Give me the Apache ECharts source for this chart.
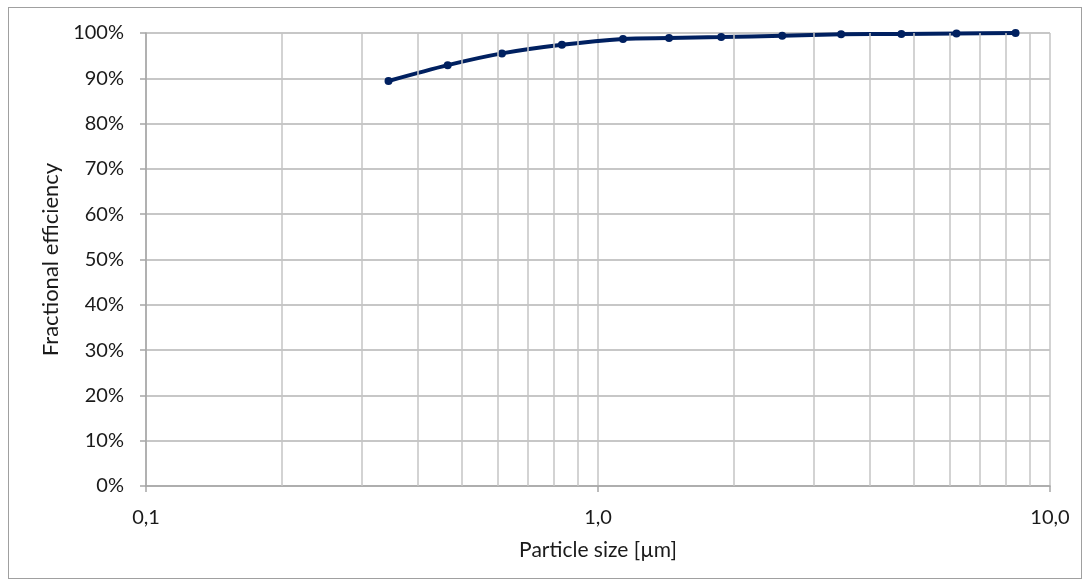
<!DOCTYPE html>
<html><head><meta charset="utf-8">
<script src="https://cdn.jsdelivr.net/npm/echarts@6/dist/echarts.min.js"></script>
<style>
html,body{margin:0;padding:0;background:#fff;}
#frame{position:absolute;left:8px;top:7px;width:1074px;height:572px;border:1.5px solid #a0a0a0;box-sizing:border-box;}
#c{position:absolute;left:0;top:0;width:1091px;height:588px;}
</style></head>
<body>
<div id="frame"></div>
<div id="c"></div>
<script>
const particleSize = [0.344, 0.465, 0.613, 0.832, 1.136, 1.436, 1.873, 2.556, 3.45, 4.69, 6.21, 8.39];
const efficiency = [89.4, 92.9, 95.5, 97.4, 98.7, 98.9, 99.1, 99.4, 99.7, 99.8, 99.9, 100.0];
const minorGrid = [0.2, 0.3, 0.4, 0.5, 0.6, 0.7, 0.8, 0.9, 2, 3, 4, 5, 6, 7, 8, 9];
const xTickLabels = {0.1: '0,1', 1: '1,0', 10: '10,0'};

const font = 'Lato, "Open Sans", sans-serif';
const txt = '#1a1a1a';
const chart = echarts.init(document.getElementById('c'), null, {renderer: 'canvas'});
chart.setOption({
  animation: false,
  grid: {left: 146, right: 41, top: 33, bottom: 102},
  xAxis: {
    type: 'log', logBase: 10, min: 0.1, max: 10,
    name: 'Particle size [µm]', nameLocation: 'middle', nameGap: 54,
    nameTextStyle: {fontFamily: font, fontSize: 21, color: txt},
    axisLine: {show: true, lineStyle: {color: '#a6a6a6', width: 1.5}},
    axisTick: {show: true, length: 6, lineStyle: {color: '#a6a6a6', width: 1.5}},
    axisLabel: {margin: 22, fontFamily: font, fontSize: 20, color: txt,
      formatter: v => xTickLabels[v] !== undefined ? xTickLabels[v] : v.toFixed(1).replace('.', ',')},
    splitLine: {show: true, lineStyle: {color: '#c4c4c4', width: 1.5}}
  },
  yAxis: {
    type: 'value', min: 0, max: 100, interval: 10,
    name: 'Fractional efficiency', nameLocation: 'middle', nameGap: 75, nameRotate: 90,
    nameTextStyle: {fontFamily: font, fontSize: 22, color: txt},
    axisLine: {show: true, lineStyle: {color: '#a6a6a6', width: 1.5}},
    axisTick: {show: true, length: 6, lineStyle: {color: '#a6a6a6', width: 1.5}},
    axisLabel: {margin: 22, fontFamily: font, fontSize: 20, color: txt, formatter: v => v + '%'},
    splitLine: {show: true, lineStyle: {color: '#b4b4b4', width: 1.5}}
  },
  series: [
    {
      type: 'line', data: [], silent: true,
      markLine: {
        silent: true, symbol: 'none', label: {show: false},
        lineStyle: {color: '#c4c4c4', width: 1.5, type: 'solid'},
        data: minorGrid.map(v => ({xAxis: v}))
      }
    },
    {
      type: 'line',
      data: particleSize.map((x, i) => [x, efficiency[i]]),
      smooth: 0.3,
      symbol: 'circle', symbolSize: 8,
      lineStyle: {color: '#002060', width: 4},
      itemStyle: {color: '#002060'}
    }
  ]
});
</script>
</body></html>
